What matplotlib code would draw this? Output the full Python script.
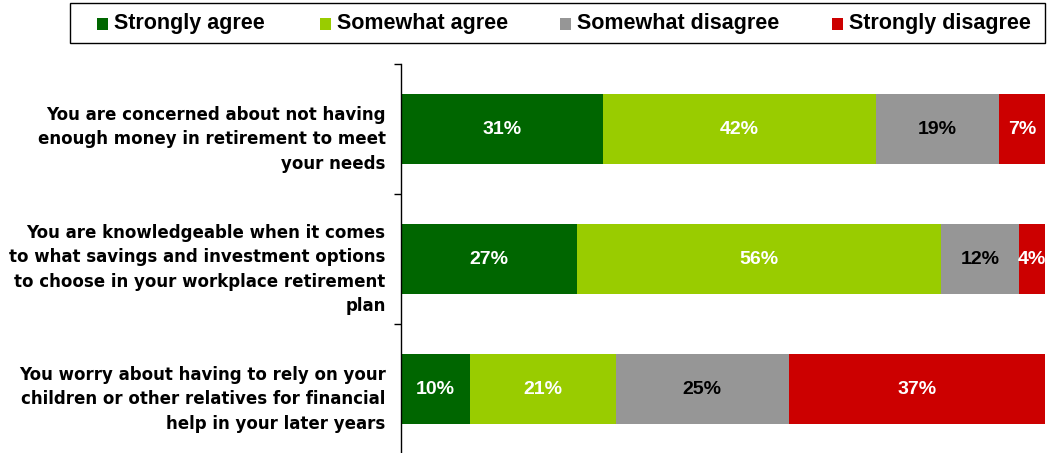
import numpy as np
import matplotlib.pyplot as plt
from matplotlib.patches import Rectangle

# survey statements (wrapped as shown on the axis)
statements = [
    "You are concerned about not having\nenough money in retirement to meet\nyour needs",
    "You are knowledgeable when it comes\nto what savings and investment options\nto choose in your workplace retirement\nplan",
    "You worry about having to rely on your\nchildren or other relatives for financial\nhelp in your later years",
]
responses = ["Strongly agree", "Somewhat agree", "Somewhat disagree", "Strongly disagree"]

strongly_agree = [31, 27, 10]
somewhat_agree = [42, 56, 21]
somewhat_disagree = [19, 12, 25]
strongly_disagree = [7, 4, 37]

colors = ["#006600", "#99CC00", "#969696", "#CC0000"]
label_colors = ["white", "white", "black", "white"]

plt.rcParams['font.family'] = ['Liberation Sans', 'DejaVu Sans']

values = np.array([strongly_agree, somewhat_agree, somewhat_disagree, strongly_disagree], dtype=float)
# 100% stacked: each row is scaled to its own total
shares = values / values.sum(axis=0) * 100

W, H = 1047, 453
fig = plt.figure(figsize=(W / 100, H / 100), dpi=100)
ax = fig.add_axes([401 / W, -1 / H, 644 / W, 390 / H])

y = np.arange(len(statements))
left = np.zeros(len(statements))
for i, resp in enumerate(responses):
    bars = ax.barh(y, shares[i], left=left, height=0.54, color=colors[i], edgecolor='none')
    for j, b in enumerate(bars):
        cx = b.get_x() + b.get_width() / 2
        ax.text(cx, y[j], f"{int(values[i, j])}%", ha='center', va='center',
                color=label_colors[i], fontsize=14, fontweight='bold')
    left += shares[i]

ax.set_xlim(0, 100)
ax.set_ylim(2.5, -0.5)
ax.set_xticks([])
ax.set_yticks([-0.5, 0.5, 1.5, 2.5])
ax.set_yticklabels([])
ax.tick_params(axis='y', length=5, width=1, direction='out')
# statement labels sit a little below the bar centre
for j, s in enumerate(statements):
    ax.text(-2.4, y[j] + 0.08, s, ha='right', va='center', fontsize=12, fontweight='bold',
            family='DejaVu Sans', linespacing=1.45)
for side in ['top', 'right', 'bottom']:
    ax.spines[side].set_visible(False)
ax.spines['left'].set_linewidth(1)

# legend box drawn by hand so the entries sit where they should
fig.patches.append(Rectangle((70 / W, 1 - 43 / H), 975 / W, 40 / H, transform=fig.transFigure,
                             facecolor='white', edgecolor='black', linewidth=1))
legend_x = [97, 320, 560, 832]
for x0, c, resp in zip(legend_x, colors, responses):
    fig.patches.append(Rectangle((x0 / W, 1 - 30 / H), 11 / W, 12 / H, transform=fig.transFigure,
                                 facecolor=c, edgecolor='none'))
    fig.text((x0 + 17) / W, 1 - 23 / H, resp, ha='left', va='center', fontsize=15.5,
             fontweight='bold')

fig.savefig('out.png', dpi=100)
